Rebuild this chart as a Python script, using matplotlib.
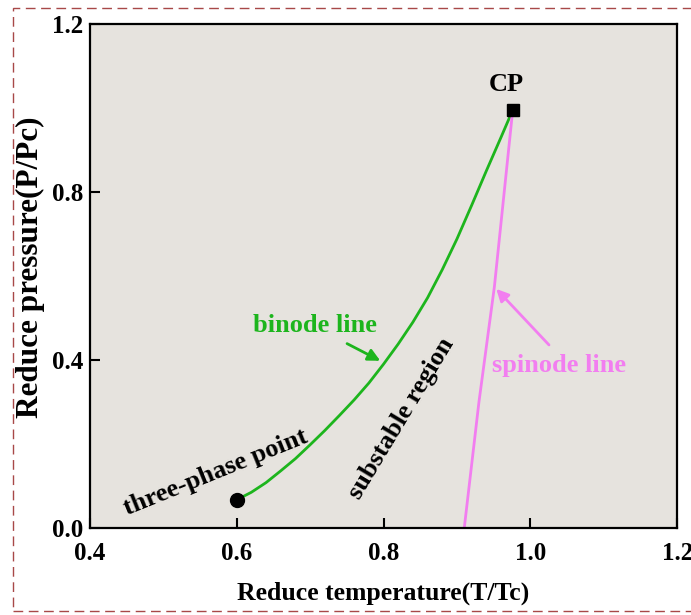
import numpy as np
import matplotlib
matplotlib.use("Agg")
import matplotlib.pyplot as plt
from matplotlib.patches import Rectangle

# binode (coexistence) curve
binode_T = [0.600, 0.620, 0.640, 0.660, 0.680, 0.700, 0.720, 0.740, 0.760, 0.780,
            0.800, 0.820, 0.840, 0.860, 0.880, 0.900, 0.920, 0.940, 0.960, 0.976]
binode_P = [0.067, 0.085, 0.108, 0.136, 0.165, 0.198, 0.232, 0.268, 0.305, 0.345,
            0.390, 0.438, 0.490, 0.548, 0.615, 0.688, 0.768, 0.850, 0.930, 0.995]

# spinode curve
spinode_T = [0.976, 0.951, 0.930, 0.910]
spinode_P = [0.995, 0.574, 0.300, 0.000]

# special points
cp = (0.976, 0.995)
triple = (0.600, 0.067)

xticks = [0.4, 0.6, 0.8, 1.0, 1.2]
yticks = [0.0, 0.4, 0.8, 1.2]

green = "#1db51d"
pink = "#f27ef0"

plt.rcParams['font.family'] = ['Liberation Serif', 'DejaVu Serif']
plt.rcParams['font.weight'] = 'bold'

fig = plt.figure(figsize=(6.91, 6.15), dpi=100)
ax = fig.add_axes([0.130, 0.1415, 0.850, 0.8195])
ax.set_facecolor("#e6e3de")

ax.plot(binode_T, binode_P, color=green, lw=2)
ax.plot(spinode_T, spinode_P, color=pink, lw=2)
ax.plot(*cp, marker='s', color='black', ms=8, zorder=5)
ax.plot(*triple, marker='o', color='black', ms=10, zorder=5)

ax.text(0.967, 1.055, "CP", fontsize=19, fontweight='bold', ha='center', va='center')
ax.text(0.706, 0.483, "binode line", color=green, fontsize=19, fontweight='bold',
        ha='center', va='center')
ax.annotate("", xy=(0.799, 0.395), xytext=(0.747, 0.442),
            arrowprops=dict(arrowstyle='-|>', color=green, lw=2, mutation_scale=18))
ax.text(1.039, 0.388, "spinode line", color=pink, fontsize=19, fontweight='bold',
        ha='center', va='center')
ax.annotate("", xy=(0.951, 0.574), xytext=(1.028, 0.431),
            arrowprops=dict(arrowstyle='-|>', color=pink, lw=2, mutation_scale=18))
ax.text(0.572, 0.132, "three-phase point", fontsize=19, fontweight='bold',
        rotation=22, ha='center', va='center')
ax.text(0.824, 0.262, "substable region", fontsize=19, fontweight='bold',
        rotation=59, ha='center', va='center')

ax.set_xlim(0.4, 1.2)
ax.set_ylim(0.0, 1.2)
ax.set_xticks(xticks)
ax.set_yticks(yticks)
ax.set_xticklabels([f"{v:.1f}" for v in xticks])
ax.set_yticklabels([f"{v:.1f}" for v in yticks])
ax.tick_params(direction='in', length=7.5, width=1.5, labelsize=18, pad=5)
ax.tick_params(axis='x', pad=10)
for s in ax.spines.values():
    s.set_linewidth(1.6)

ax.set_xlabel("Reduce temperature(T/Tc)", fontsize=18.5, fontweight='bold', labelpad=12)
ax.set_ylabel("Reduce pressure(P/Pc)", fontsize=22.5, fontweight='bold')
ax.yaxis.set_label_coords(-0.076, 0.518)

# dashed frame around the figure
fig.add_artist(Rectangle((13 / 691, 1 - 611 / 615), 690 / 691, (611 - 8) / 615,
                         transform=fig.transFigure, fill=False, ls=(0, (7, 4)),
                         ec="#a84848", lw=1))

fig.savefig("out.png", dpi=100)
